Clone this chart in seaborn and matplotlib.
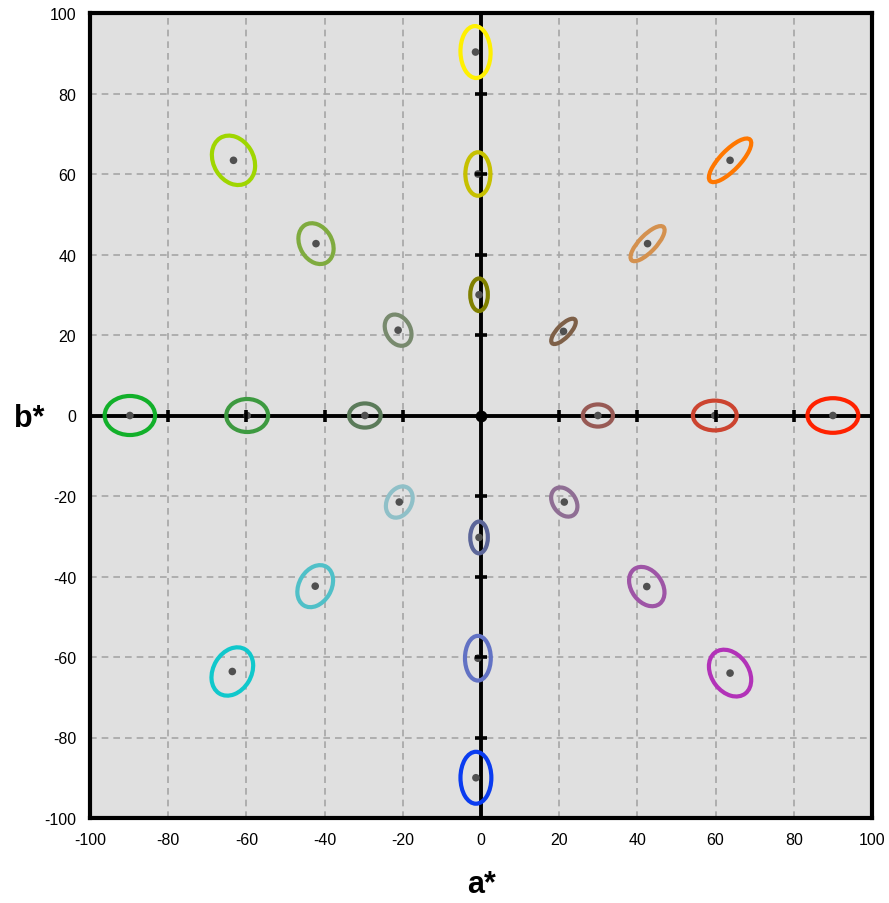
import matplotlib
matplotlib.use("Agg")
import matplotlib.pyplot as plt
from matplotlib.patches import Ellipse
import seaborn as sns
import pandas as pd

# Tolerance ellipses in the a*b* plane: centre, extent along the rotated axis,
# extent across it (CIELAB units), rotation in degrees and outline colour.
center_a = [-89.8, -59.8, -29.7, 29.9, 59.8, 90.0,
            -1.4, -0.8, -0.5, -0.5, -0.8, -1.3,
            63.7, 42.6, 21.1,
            -63.3, -42.2, -21.2,
            -20.9, -42.4, -63.6,
            21.3, 42.4, 63.7]
center_b = [0.0, 0.0, 0.0, 0.0, 0.0, 0.0,
            90.3, 60.0, 30.0, -30.3, -60.3, -90.0,
            63.4, 42.7, 20.9,
            63.4, 42.7, 21.2,
            -21.5, -42.4, -63.6,
            -21.5, -42.5, -64.0]
ell_width = [12.9, 10.7, 8.1, 7.7, 11.2, 13.0,
             12.9, 10.8, 8.1, 7.9, 11.1, 12.9,
             14.5, 11.6, 8.3,
             13.0, 10.8, 8.3,
             8.3, 11.2, 12.8,
             8.0, 10.8, 12.8]
ell_height = [9.7, 8.2, 6.0, 5.5, 7.4, 8.6,
              7.7, 6.4, 4.5, 4.5, 6.6, 7.9,
              5.0, 4.2, 3.2,
              10.2, 8.2, 6.2,
              6.2, 8.2, 9.7,
              5.8, 7.8, 9.4]
ell_angle = [0, 0, 0, 0, 0, 0,
             92, 90, 90, 90, 90, 90,
             45, 45, 45,
             122, 122, 122,
             58, 58, 58,
             128, 128, 128]
ell_color = ['#12b02a', '#3d9a40', '#5b7b5a', '#985a55', '#cc4430', '#ff2200',
             '#fff000', '#c6c000', '#808000', '#5c6699', '#6272c4', '#0a3cf0',
             '#ff7700', '#d4914f', '#7e6048',
             '#9fd600', '#7fab3f', '#788a6e',
             '#8fc0c8', '#50c0c8', '#10c8cc',
             '#8f6e94', '#9e55a6', '#b232b8']

tick_values = [-100, -80, -60, -40, -20, 0, 20, 40, 60, 80, 100]
tick_labels = ['-100', '-80', '-60', '-40', '-20', '0', '20', '40', '60', '80', '100']

sns.set_theme(style="white")
plt.rcParams['font.family'] = ['Liberation Sans', 'DejaVu Sans']

fig = plt.figure(figsize=(8.89, 9.04), dpi=100)
ax = fig.add_axes([90 / 889, 85 / 904, 782 / 889, 805 / 904])
ax.set_facecolor('#e0e0e0')

ax.set_xlim(-100, 100)
ax.set_ylim(-100, 100)
ax.set_xticks(tick_values)
ax.set_yticks(tick_values)
ax.set_xticklabels(tick_labels)
ax.set_yticklabels(tick_labels)
ax.tick_params(axis='both', length=0, labelsize=11.5, colors='black',
               labelcolor='black', pad=10)

ax.grid(True, color='#a6a6a6', linestyle=(0, (4, 3)), linewidth=1.2)
ax.set_axisbelow(True)
for sp in ax.spines.values():
    sp.set_color('black')
    sp.set_linewidth(3.0)
    sp.set_visible(True)

# Zero axes through the neutral point
ax.axhline(0, color='black', linewidth=2.8, zorder=2)
ax.axvline(0, color='black', linewidth=2.8, zorder=2)

# Ellipse outlines
for a, b, w, h, ang, c in zip(center_a, center_b, ell_width, ell_height, ell_angle, ell_color):
    ax.add_patch(Ellipse((a, b), w, h, angle=ang, fill=False, edgecolor=c,
                         linewidth=3.0, zorder=3))

# Centre points
centers = pd.DataFrame({'a': center_a, 'b': center_b})
sns.scatterplot(data=centers, x='a', y='b', ax=ax, color='#505050', s=30,
                edgecolor='none', zorder=4, legend=False)

# Graduation marks on the zero axes
marks = [v for v in tick_values if v != 0]
ax.scatter(marks, [0] * len(marks), marker='|', s=70, linewidths=2.6,
           color='black', zorder=5, clip_on=False)
ax.scatter([0] * len(marks), marks, marker='_', s=70, linewidths=2.6,
           color='black', zorder=5, clip_on=False)
ax.scatter([0], [0], marker='o', s=55, color='black', zorder=5)

ax.set_xlabel('')
ax.set_ylabel('')
fig.text(481 / 889, 1 - 885 / 904, 'a*', ha='center', va='center',
         fontsize=22, fontweight='bold', color='black')
fig.text(29 / 889, 1 - 419 / 904, 'b*', ha='center', va='center',
         fontsize=22, fontweight='bold', color='black')

fig.savefig('out.png', dpi=100)
